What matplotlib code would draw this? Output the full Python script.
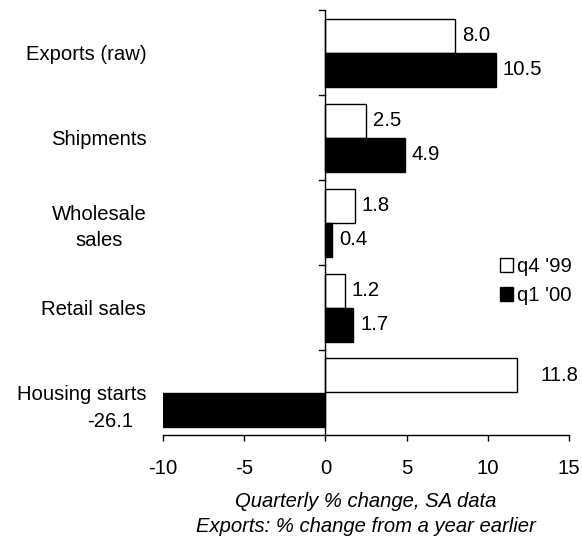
"""Canadian activity indicators: q4 '99 vs q1 '00, horizontal bar chart."""

import matplotlib

matplotlib.use("Agg")
import matplotlib.pyplot as plt
import numpy as np

categories = ["Exports (raw)", "Shipments", "Wholesale\nsales", "Retail sales", "Housing starts"]
q4_99 = [8.0, 2.5, 1.8, 1.2, 11.8]
q1_00 = [10.5, 4.9, 0.4, 1.7, -26.1]
series_names = ["q4 '99", "q1 '00"]
x_ticks = [-10, -5, 0, 5, 10, 15]
x_limits = (-10, 15)

plt.rcParams["font.family"] = ["Liberation Sans", "DejaVu Sans"]
plt.rcParams["font.size"] = 14.6

fig = plt.figure(figsize=(5.82, 5.41), dpi=100)
ax = fig.add_axes([163 / 582, 1 - 435 / 541, (569 - 163) / 582, (435 - 10) / 541])

y = np.arange(len(categories))
h = 0.4
ax.barh(y - h / 2, q4_99, height=h, color="white", edgecolor="black", linewidth=1.0,
        label=series_names[0])
ax.barh(y + h / 2, q1_00, height=h, color="black", edgecolor="black", linewidth=1.0,
        label=series_names[1])

ax.set_xlim(*x_limits)
ax.set_ylim(len(categories) - 0.5, -0.5)

# value labels; values outside the axis go under the category name
for i, (a, b) in enumerate(zip(q4_99, q1_00)):
    pad_a = 23 if a > 11 else 7
    ax.annotate(f"{a:.1f}", (a, i - h / 2), xytext=(pad_a, 0), textcoords="offset pixels",
                va="center", ha="left")
    if b < x_limits[0]:
        ax.annotate(f"{b:.1f}", (x_limits[0], i + h / 2), xytext=(-30, -12),
                    textcoords="offset pixels", va="center", ha="right",
                    annotation_clip=False)
    else:
        ax.annotate(f"{b:.1f}", (b, i + h / 2), xytext=(7, 0), textcoords="offset pixels",
                    va="center", ha="left")

for s in ["top", "right", "left"]:
    ax.spines[s].set_visible(False)
ax.axvline(0, color="black", linewidth=1.0)
ax.spines["bottom"].set_linewidth(1.0)

ax.set_xticks(x_ticks)
ax.set_xticklabels([str(t) for t in x_ticks])
ax.tick_params(axis="x", direction="out", length=4.5, width=1.0, pad=13)

ax.set_yticks(y)
ax.set_yticklabels(categories, ha="right", multialignment="center", linespacing=1.4)
ax.tick_params(axis="y", which="major", length=0, pad=12)
# category separators drawn as ticks on the zero line
for yy in np.arange(len(categories)) - 0.5:
    ax.plot([-0.4, 0], [yy, yy], color="black", linewidth=1.0, clip_on=False)

ax.set_xlabel("Quarterly % change, SA data\nExports: % change from a year earlier",
              style="italic", linespacing=1.4, labelpad=10)

ax.legend(loc="center left", bbox_to_anchor=(490 / 582, 1 - 281 / 541),
          bbox_transform=fig.transFigure, frameon=False, handlelength=0.65,
          handleheight=0.65, handletextpad=0.2, labelspacing=0.5, borderpad=0)

fig.savefig("out.png", dpi=100)
